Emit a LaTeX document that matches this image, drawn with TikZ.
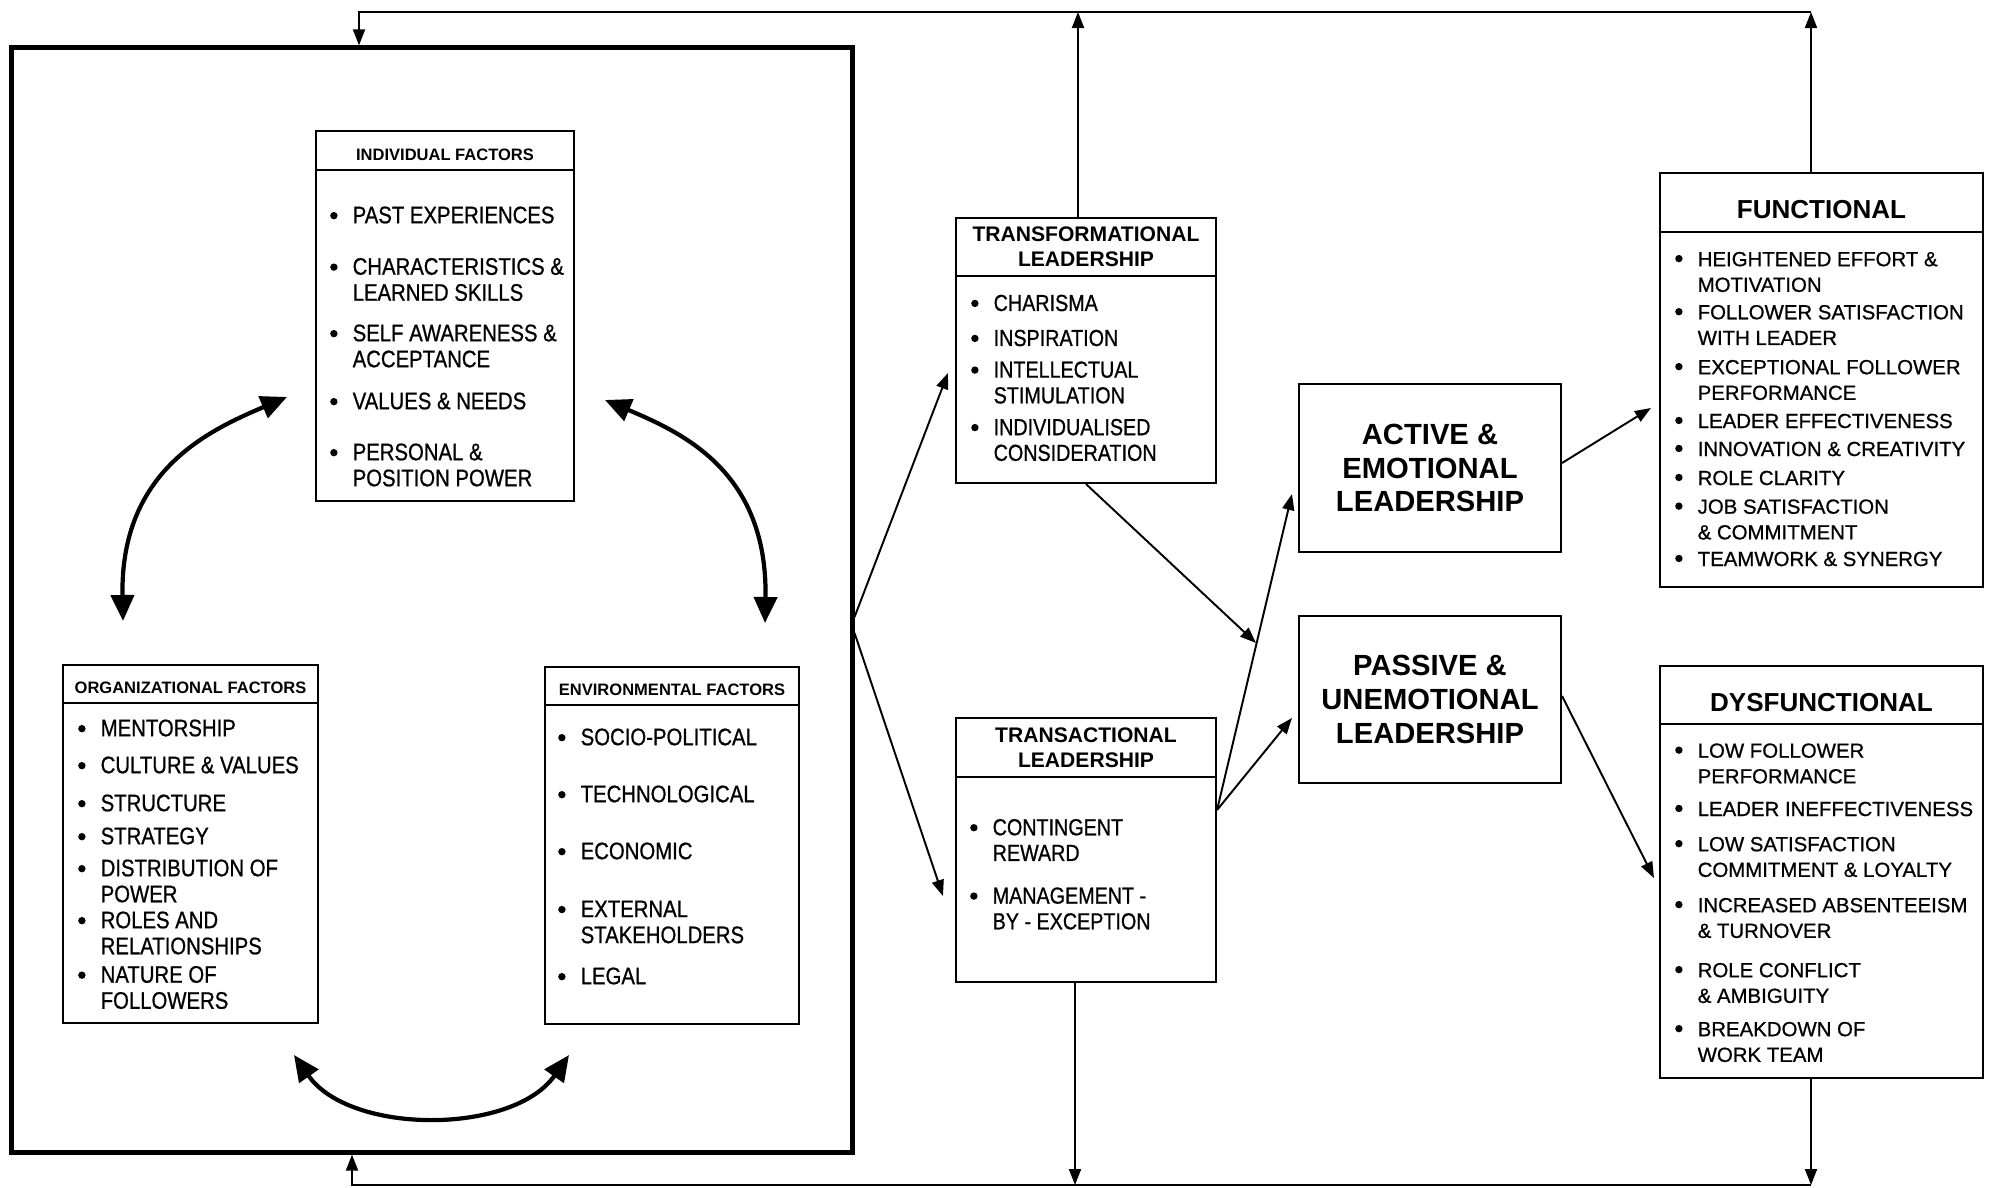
\documentclass[tikz,border=0pt]{standalone}
\usepackage{fontspec}
\setmainfont{Liberation Sans}
\newfontfamily\narrowfont{Liberation Sans}[FakeStretch=0.85, FakeBold=0.8]
\newfontfamily\itemfont{Liberation Sans}[FakeBold=0.8]
\usetikzlibrary{arrows.meta}

\newcommand{\bul}{\llap{\raisebox{1.1pt}{\tikz\fill (0,0) circle (1.05pt);}\hspace{4.3pt}}}

\tikzset{
  box/.style={draw, rectangle, line width=0.55pt, inner sep=0pt},
  smallhead/.style={box, anchor=north, text height=5.6pt, font=\bfseries\fontsize{4.7}{5.6}\selectfont},
  midhead/.style={box, anchor=north, align=center, font=\bfseries\fontsize{6}{7.1}\selectfont},
  outhead/.style={box, anchor=north, text height=9.3pt, font=\bfseries\fontsize{7.4}{8.8}\selectfont},
  bigtext/.style={box, align=center, font=\bfseries\fontsize{8.3}{9.6}\selectfont},
  leftitem/.style={anchor=west, align=left, inner sep=0pt, font=\narrowfont\fontsize{6.8}{7.4}\selectfont},
  miditem/.style={leftitem, font=\narrowfont\fontsize{6.6}{7.3}\selectfont},
  rightitem/.style={leftitem, font=\itemfont\fontsize{5.8}{7.3}\selectfont},
  arr/.style={line width=0.55pt, -{Triangle[length=1.6mm, width=1.2mm]}},
  twoway/.style={line width=1.2pt, {Triangle[length=2.6mm, width=2.3mm]}-{Triangle[length=2.6mm, width=2.3mm]}}
}

\begin{document}
\begin{tikzpicture}[x=0.01cm, y=-0.01cm]
        \useasboundingbox (0,0) rectangle (1997,1188);

        % Outer box with the three factor boxes
        \node[draw, rectangle, line width=1.3pt, minimum width=8.40cm, minimum height=11.04cm] (bigbox) at (432, 600) {};

        \node[box, minimum width=2.58cm, minimum height=3.70cm] (indbox) at (445, 316) {};
        \node[smallhead, minimum width=2.58cm, minimum height=0.39cm] (indhead) at (indbox.north) {INDIVIDUAL FACTORS};
        \node[leftitem] (ind1) at (352, 215) {\bul PAST EXPERIENCES};
        \node[leftitem] (ind2) at (352, 279.5) {\bul CHARACTERISTICS \&\\LEARNED SKILLS};
        \node[leftitem] (ind3) at (352, 346) {\bul SELF AWARENESS \&\\ACCEPTANCE};
        \node[leftitem] (ind4) at (352, 401) {\bul VALUES \& NEEDS};
        \node[leftitem] (ind5) at (352, 465) {\bul PERSONAL \&\\POSITION POWER};

        \node[box, minimum width=2.55cm, minimum height=3.58cm] (orgbox) at (190.5, 844) {};
        \node[smallhead, minimum width=2.55cm, minimum height=0.38cm] (orghead) at (orgbox.north) {ORGANIZATIONAL FACTORS};
        \node[leftitem] (org1) at (100, 728) {\bul MENTORSHIP};
        \node[leftitem] (org2) at (100, 765) {\bul CULTURE \& VALUES};
        \node[leftitem] (org3) at (100, 803) {\bul STRUCTURE};
        \node[leftitem] (org4) at (100, 836) {\bul STRATEGY};
        \node[leftitem] (org5) at (100, 881) {\bul DISTRIBUTION OF\\POWER};
        \node[leftitem] (org6) at (100, 933) {\bul ROLES AND\\RELATIONSHIPS};
        \node[leftitem] (org7) at (100, 987.5) {\bul NATURE OF\\FOLLOWERS};

        \node[box, minimum width=2.54cm, minimum height=3.57cm] (envbox) at (672, 845.5) {};
        \node[smallhead, minimum width=2.54cm, minimum height=0.38cm] (envhead) at (envbox.north) {ENVIRONMENTAL FACTORS};
        \node[leftitem] (env1) at (580, 737) {\bul SOCIO-POLITICAL};
        \node[leftitem] (env2) at (580, 794) {\bul TECHNOLOGICAL};
        \node[leftitem] (env3) at (580, 851) {\bul ECONOMIC};
        \node[leftitem] (env4) at (580, 922) {\bul EXTERNAL\\STAKEHOLDERS};
        \node[leftitem] (env5) at (580, 976) {\bul LEGAL};

        % Curved two-way arrows between the factors
        \coordinate (indL) at (287, 397);
        \coordinate (indR) at (605, 400);
        \coordinate (orgT) at (123, 621);
        \coordinate (envT) at (765, 623);
        \coordinate (orgB) at (294, 1055);
        \coordinate (envB) at (569, 1055);
        \draw[twoway] (orgT) .. controls (120, 470) and (210, 430) .. (indL);
        \draw[twoway] (envT) .. controls (768, 470) and (680, 432) .. (indR);
        \draw[twoway] (orgB) .. controls (350, 1135) and (513, 1135) .. (envB);

        % Leadership styles
        \node[box, minimum width=2.60cm, minimum height=2.65cm] (tfbox) at (1086, 350.5) {};
        \node[midhead, minimum width=2.60cm, minimum height=0.58cm] (tfhead) at (tfbox.north) {TRANSFORMATIONAL\\LEADERSHIP};
        \node[miditem] (tf1) at (993, 303) {\bul CHARISMA};
        \node[miditem] (tf2) at (993, 338) {\bul INSPIRATION};
        \node[miditem] (tf3) at (993, 382.5) {\bul INTELLECTUAL\\STIMULATION};
        \node[miditem] (tf4) at (993, 440) {\bul INDIVIDUALISED\\CONSIDERATION};

        \node[box, minimum width=2.60cm, minimum height=2.64cm] (tabox) at (1086, 850) {};
        \node[midhead, minimum width=2.60cm, minimum height=0.59cm] (tahead) at (tabox.north) {TRANSACTIONAL\\LEADERSHIP};
        \node[miditem] (ta1) at (992, 840) {\bul CONTINGENT\\REWARD};
        \node[miditem] (ta2) at (992, 908.5) {\bul MANAGEMENT -\\BY - EXCEPTION};

        \node[bigtext, minimum width=2.62cm, minimum height=1.68cm] (activebox) at (1430, 468) {ACTIVE \&\\EMOTIONAL\\LEADERSHIP};
        \node[bigtext, minimum width=2.62cm, minimum height=1.67cm] (passivebox) at (1430, 699.5) {PASSIVE \&\\UNEMOTIONAL\\LEADERSHIP};

        % Outcomes
        \node[box, minimum width=3.23cm, minimum height=4.14cm] (funcbox) at (1821.5, 380) {};
        \node[outhead, minimum width=3.23cm, minimum height=0.59cm] (funchead) at (funcbox.north) {FUNCTIONAL};
        \node[rightitem] (fn1) at (1697, 272) {\bul HEIGHTENED EFFORT \&\\MOTIVATION};
        \node[rightitem] (fn2) at (1697, 325) {\bul FOLLOWER SATISFACTION\\WITH LEADER};
        \node[rightitem] (fn3) at (1697, 380) {\bul EXCEPTIONAL FOLLOWER\\PERFORMANCE};
        \node[rightitem] (fn4) at (1697, 421) {\bul LEADER EFFECTIVENESS};
        \node[rightitem] (fn5) at (1697, 449) {\bul INNOVATION \& CREATIVITY};
        \node[rightitem] (fn6) at (1697, 478) {\bul ROLE CLARITY};
        \node[rightitem] (fn7) at (1697, 519.5) {\bul JOB SATISFACTION\\\& COMMITMENT};
        \node[rightitem] (fn8) at (1697, 559) {\bul TEAMWORK \& SYNERGY};

        \node[box, minimum width=3.23cm, minimum height=4.12cm] (dysbox) at (1821.5, 872) {};
        \node[outhead, minimum width=3.23cm, minimum height=0.58cm] (dyshead) at (dysbox.north) {DYSFUNCTIONAL};
        \node[rightitem] (dy1) at (1697, 763.5) {\bul LOW FOLLOWER\\PERFORMANCE};
        \node[rightitem] (dy2) at (1697, 809) {\bul LEADER INEFFECTIVENESS};
        \node[rightitem] (dy3) at (1697, 857) {\bul LOW SATISFACTION\\COMMITMENT \& LOYALTY};
        \node[rightitem] (dy4) at (1697, 918) {\bul INCREASED ABSENTEEISM\\\& TURNOVER};
        \node[rightitem] (dy5) at (1697, 983) {\bul ROLE CONFLICT\\\& AMBIGUITY};
        \node[rightitem] (dy6) at (1697, 1042) {\bul BREAKDOWN OF\\WORK TEAM};

        % Draw the arrows
        \coordinate (meet) at (1256, 643);
        \coordinate (taout) at ([shift={(0,-40)}]tabox.east);
        \draw[arr] ([shift={(0,17)}]bigbox.east) -- ([shift={(-7,22.5)}]tfbox.west);
        \draw[arr] ([shift={(0,33)}]bigbox.east) -- ([shift={(-12,46)}]tabox.west);
        \draw[arr] (tfbox.south) -- (meet);
        \draw[arr] (taout) -- ([shift={(-6,26)}]activebox.west);
        \draw[arr] (taout) -- ([shift={(-6,18.5)}]passivebox.west);
        \draw[arr] ([shift={(0,-5)}]activebox.east) -- ([shift={(-8,28)}]funcbox.west);
        \draw[arr] ([shift={(0,-3.5)}]passivebox.east) -- ([shift={(-5,6)}]dysbox.west);

        % Feedback loops
        \coordinate (fbtop) at (1811, 12);
        \coordinate (fbbot) at (1811, 1185);
        \coordinate (tfup) at ([shift={(-8,0)}]tfbox.north);
        \coordinate (tadown) at ([shift={(-11,0)}]tabox.south);
        \draw[arr] ([shift={(-10.5,0)}]funcbox.north) -- (fbtop);
        \draw[arr] (fbtop) -| ([shift={(-73,0)}]bigbox.north);
        \draw[arr] (tfup) -- (tfup |- fbtop);
        \draw[arr] ([shift={(-10.5,0)}]dysbox.south) -- (fbbot);
        \draw[arr] (fbbot) -| ([shift={(-80,0)}]bigbox.south);
        \draw[arr] (tadown) -- (tadown |- fbbot);

\end{tikzpicture}
\end{document}
